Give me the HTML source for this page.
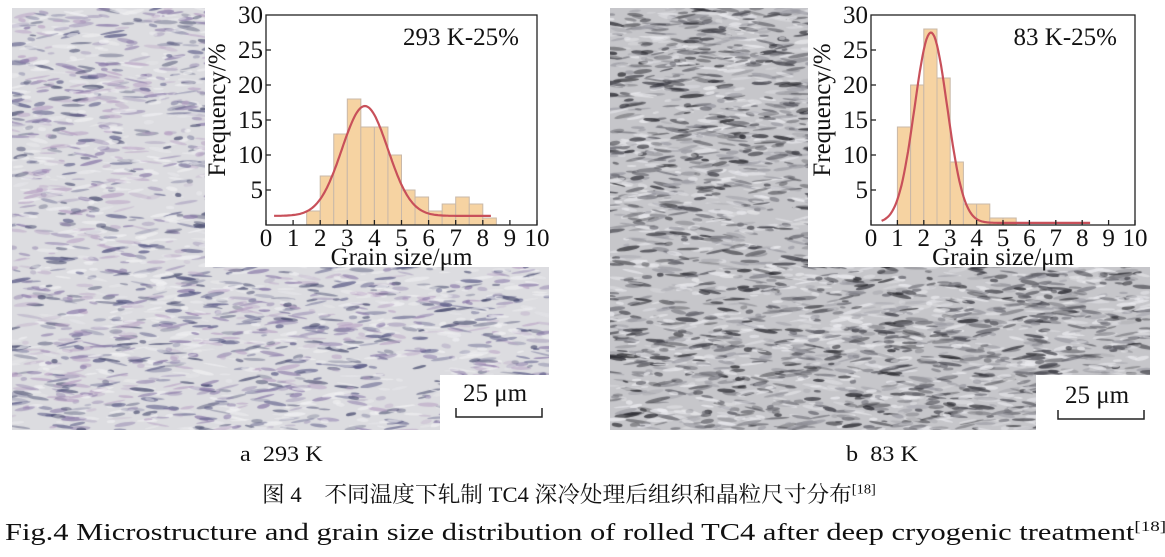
<!DOCTYPE html>
<html><head><meta charset="utf-8">
<style>
body{margin:0;width:1165px;height:557px;background:#fff;position:relative;overflow:hidden;font-family:"Liberation Serif","Noto Serif CJK SC",serif;}
canvas{position:absolute;}
.t{position:absolute;white-space:nowrap;color:#111;transform-origin:0 0;}
</style></head><body>
<canvas id="c1" width="537" height="422" style="left:12px;top:8px"></canvas>
<canvas id="c2" width="540" height="422" style="left:610px;top:8px"></canvas>
<svg width="1165" height="557" style="position:absolute;left:0;top:0" id="s" font-family="Liberation Serif, serif"></svg>
<div class="t" style="left:240px;top:441px;font-size:22px;transform:scaleX(1.1)">a&nbsp; 293 K</div>
<div class="t" style="left:846px;top:441px;font-size:22px;transform:scaleX(1.1)">b&nbsp; 83 K</div>
<div class="t" style="left:262px;top:478px;font-size:22px;transform:scaleX(1.03)">图 4&nbsp;&nbsp;&nbsp; 不同温度下轧制 TC4 深冷处理后组织和晶粒尺寸分布<sup style="font-size:14px">[18]</sup></div>
<div class="t" style="left:5px;top:519px;font-size:24px;transform:scaleX(1.27)">Fig.4 Microstructure and grain size distribution of rolled TC4 after deep cryogenic treatment<sup style="font-size:15px">[18]</sup></div>
<script>
function seed(s){return function(){s=(s*16807)%2147483647;return s/2147483647;}}
function tex(id,bg,cols,n,r,a0,a1){var c=document.getElementById(id),g=c.getContext('2d');g.fillStyle=bg;g.fillRect(0,0,c.width,c.height);
for(var i=0;i<n;i++){var x=r()*c.width,y=r()*c.height,w=3+r()*10,h=0.8+r()*1.5;g.fillStyle=cols[Math.floor(r()*cols.length)];g.globalAlpha=a0+r()*a1;g.beginPath();g.ellipse(x,y,w,h,(r()-0.5)*0.5,0,6.283);g.fill();}
g.globalAlpha=1;}
tex('c1','#dcdce0',['#5a5a86','#8a7aa8','#b8a2c4','#f2f2f4','#45486c','#f0f0f2'],3200,seed(7),0.25,0.5);
tex('c2','#c6c6ca',['#3c3c44','#6a6a72','#9a9aa2','#e8e8ec','#2a2a30','#ececf0'],4200,seed(11),0.3,0.5);
var s=document.getElementById('s'),h='';
function R(x,y,w,hh,f,st){h+='<rect x="'+x+'" y="'+y+'" width="'+w+'" height="'+hh+'" fill="'+f+'"'+(st?' stroke="'+st+'" stroke-width="1"':'')+'/>';}
function T(x,y,t,fs,a,tr){h+='<text x="'+x+'" y="'+y+'" font-size="'+fs+'" text-anchor="'+(a||'middle')+'"'+(tr?' transform="'+tr+'"':'')+' fill="#111">'+t+'</text>';}
function chart(wx,ww,x0,x1,bars,mu,pk,sg,base,label,cs,ce){
 R(wx,0,ww,267,'#fff');
 var y0=225,yt=15,kx=(x1-x0)/10,ky=(y0-yt)/30;
 bars.forEach(function(b){R(x0+b[0]*kx,y0-b[1]*ky,0.5*kx,b[1]*ky,'#f6d3a2','#c9b8a8');});
 var p='';for(var v=cs;v<=ce;v+=0.05){var f=base+(pk-base)*Math.exp(-Math.pow(v-mu,2)/(2*sg*sg));p+=(p?'L':'M')+(x0+v*kx).toFixed(1)+','+(y0-f*ky).toFixed(1);}
 h+='<path d="'+p+'" fill="none" stroke="#c8505a" stroke-width="2.2"/>';
 h+='<rect x="'+x0+'" y="'+yt+'" width="'+(x1-x0)+'" height="'+(y0-yt)+'" fill="none" stroke="#222" stroke-width="1.3"/>';
 for(var i=0;i<=10;i++){var x=x0+i*kx;h+='<line x1="'+x+'" x2="'+x+'" y1="'+y0+'" y2="'+(y0-5)+'" stroke="#222" stroke-width="1.3"/>';T(x,y0+21,i,25);}
 for(var j=1;j<=6;j++){var y=y0-j*5*ky;if(j<6)h+='<line x1="'+x0+'" x2="'+(x0+5)+'" y1="'+y+'" y2="'+y+'" stroke="#222" stroke-width="1.3"/>';T(x0-3,y+8,j*5,25,'end');}
 T((x0+x1)/2,y0+40,'Grain size/μm',25);
 T(x0-41,(y0+yt)/2-10,'Frequency/%',25,'middle','rotate(-90 '+(x0-41)+' '+((y0+yt)/2-10)+')');
 T(x1-18,yt+30,label,25,'end');
}
chart(205,344,266,537,[[1.5,2],[2,7],[2.5,13],[3,18],[3.5,14],[4,14],[4.5,10],[5,5],[5.5,4],[6,2],[6.5,3],[7,4],[7.5,3],[8,1]],3.65,17,0.85,1.3,'293 K-25%',0.3,8.3);
chart(808,342,871,1135,[[1,14],[1.5,20],[2,28],[2.5,21],[3,9],[3.5,3],[4,3],[4.5,1],[5,1]],2.27,27.5,0.62,0.3,'83 K-25%',0.4,8.3);
R(440,375,109,55,'#fff');T(495,401,'25 μm',25);h+='<path d="M456,408V417H542V408" fill="none" stroke="#222" stroke-width="1.5"/>';
R(1036,375,114,55,'#fff');T(1097,403,'25 μm',25);h+='<path d="M1058,410V419H1144V410" fill="none" stroke="#222" stroke-width="1.5"/>';
s.innerHTML=h;
</script>
</body></html>
